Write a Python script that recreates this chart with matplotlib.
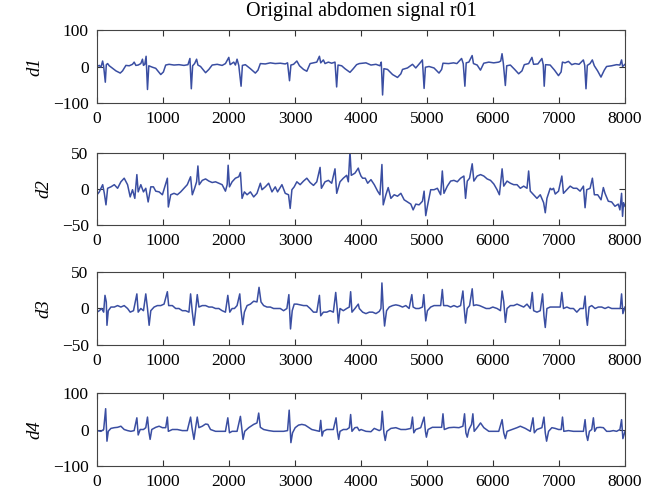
import matplotlib
matplotlib.use("Agg")
import matplotlib.pyplot as plt

# points, (sample, amplitude)
d1_points = [(0, 0), (35, 3), (60, -2), (85, 15), (100, 2), (126, -43), (141, 5), (161, 8), (186, 2), (236, -5),
             (287, -12), (352, -18), (387, -12), (438, 3), (488, 2), (538, 6), (563, 12), (589, 3), (624, 4),
             (664, 8), (689, 20), (704, 3), (724, 6), (744, 28), (765, -63), (785, 2), (840, -2), (890, -5),
             (966, -22), (1006, -15), (1041, 4), (1092, 6), (1167, 4), (1242, 5), (1318, 3), (1378, 5), (1408, 22),
             (1429, -61), (1449, 2), (1479, 8), (1509, 20), (1529, 4), (1569, 0), (1645, -17), (1695, -8),
             (1745, 4), (1821, 6), (1896, 3), (1946, 8), (1997, 25), (2017, 5), (2072, 12), (2097, 4), (2122, 20),
             (2148, 3), (2183, -54), (2203, 3), (2248, 5), (2324, -6), (2399, -18), (2439, -10), (2475, 8),
             (2550, 7), (2626, 10), (2701, 8), (2777, 9), (2852, 7), (2887, 10), (2917, -39), (2938, 4), (2978, 6),
             (3028, 15), (3068, 2), (3129, -8), (3179, -13), (3229, 8), (3280, 10), (3330, 12), (3370, 28),
             (3390, 10), (3430, 18), (3455, 8), (3505, 12), (3556, 9), (3606, 12), (3631, -56), (3652, 4),
             (3707, 2), (3757, -6), (3833, -16), (3883, -6), (3933, 5), (3974, 8), (4075, 10), (4151, 4),
             (4226, 6), (4287, 2), (4307, 12), (4327, -78), (4347, -6), (4402, -8), (4478, -22), (4553, -30),
             (4604, -20), (4629, -8), (4704, -4), (4780, 6), (4830, -4), (4905, 12), (4930, 18), (4956, -60),
             (4976, -2), (5031, 0), (5106, -4), (5182, -18), (5222, -8), (5242, 9), (5327, 8), (5403, 10),
             (5453, 8), (5524, 22), (5549, 8), (5574, -54), (5594, 10), (5634, 12), (5684, 30), (5704, 8),
             (5760, 4), (5810, -10), (5860, 9), (5936, 12), (6011, 10), (6087, 12), (6117, 15), (6137, 35),
             (6157, 8), (6187, -52), (6208, 2), (6263, 4), (6328, -8), (6389, -20), (6439, -12), (6474, 5),
             (6540, 8), (6590, 25), (6615, 6), (6680, 7), (6741, 22), (6761, 5), (6776, -54), (6796, 5),
             (6866, 4), (6932, -10), (6992, -25), (7032, -15), (7052, 12), (7092, 10), (7143, 14), (7193, 5),
             (7243, 8), (7304, 6), (7369, 18), (7389, 4), (7409, -61), (7429, 3), (7470, 8), (7505, 18),
             (7535, 2), (7585, -12), (7636, -29), (7686, -10), (7721, 0), (7797, 2), (7872, 5), (7923, 4),
             (7948, 18), (7963, 0), (8000, 6)]

d2_points = [(0, -8), (35, -4), (86, 6), (111, -6), (136, -22), (161, 1), (211, 3), (262, 6), (312, 1), (362, 10),
             (412, 15), (463, 6), (503, -11), (538, -1), (573, -13), (604, 20), (624, -4), (664, 6), (704, -4),
             (739, 1), (775, -18), (815, 3), (855, 3), (890, -3), (941, -4), (991, -8), (1066, 15), (1081, -25),
             (1117, -8), (1167, -6), (1217, -8), (1268, -4), (1318, 1), (1368, 6), (1418, 17), (1444, -8),
             (1479, 1), (1509, 10), (1529, 32), (1549, 6), (1595, 12), (1645, 14), (1695, 11), (1745, 9),
             (1796, 10), (1846, 8), (1896, 6), (1946, -3), (1972, 6), (1987, 33), (2007, 3), (2047, 10),
             (2097, 15), (2148, 17), (2173, 23), (2198, -13), (2233, -4), (2274, -8), (2324, -4), (2374, -11),
             (2424, -6), (2475, 8), (2500, -1), (2550, 3), (2601, 8), (2651, -4), (2701, 3), (2736, -4),
             (2802, 6), (2852, -6), (2902, -8), (2927, -27), (2953, -1), (2988, 3), (3028, 10), (3078, 6),
             (3129, 11), (3179, 15), (3229, 9), (3280, 5), (3330, 10), (3380, 30), (3400, 1), (3455, 10),
             (3506, 12), (3556, 8), (3606, 28), (3632, -6), (3682, 10), (3732, 15), (3783, 19), (3808, 10),
             (3833, 52), (3853, 19), (3908, 22), (3959, 29), (3974, 24), (4000, 18), (4025, 15), (4065, 15),
             (4101, 8), (4151, 13), (4201, 6), (4252, -3), (4287, -8), (4317, 34), (4337, -22), (4377, -8),
             (4412, 2), (4453, -13), (4503, -8), (4553, -10), (4604, -6), (4654, -15), (4704, -18), (4755, -21),
             (4790, -29), (4830, -21), (4880, -22), (4931, -17), (4956, -3), (4981, -37), (5006, -24),
             (5056, -1), (5107, -1), (5157, 1), (5207, -8), (5232, 25), (5257, -6), (5308, 4), (5358, 11),
             (5408, 12), (5459, 10), (5509, 15), (5559, 18), (5584, -13), (5610, 11), (5645, 15), (5685, 35),
             (5710, 11), (5760, 18), (5811, 20), (5861, 18), (5911, 14), (5962, 12), (6012, 7), (6062, -1),
             (6097, -8), (6138, 28), (6163, 4), (6213, 11), (6263, 8), (6314, 6), (6364, 6), (6414, 1),
             (6465, 4), (6515, 1), (6540, 25), (6565, -3), (6616, -8), (6666, -13), (6716, -8), (6767, -19),
             (6792, -33), (6817, -13), (6867, 1), (6892, -1), (6917, 1), (6943, -7), (6993, -3), (7043, 18),
             (7068, -6), (7119, -1), (7169, 4), (7219, 1), (7270, 1), (7320, -3), (7370, 4), (7395, -26),
             (7420, -1), (7471, 1), (7506, 15), (7536, -8), (7586, -8), (7637, -15), (7672, 2), (7697, -6),
             (7747, -17), (7798, -18), (7848, -24), (7898, -21), (7923, -29), (7948, -6), (7963, -38),
             (7978, -19), (8000, -24)]

d3_points = [(0, -5), (35, -3), (70, 0), (101, -5), (121, 18), (141, 9), (151, -23), (171, -3), (211, 2), (262, 2),
             (312, 4), (362, 2), (412, 4), (463, 0), (503, -5), (553, -3), (604, 20), (624, -5), (664, 0),
             (704, -3), (739, 20), (765, 0), (790, -23), (815, -3), (865, 2), (915, 4), (966, 4), (1016, 6),
             (1066, 23), (1086, 4), (1142, 4), (1192, 0), (1242, 0), (1293, -3), (1343, -3), (1393, -5),
             (1418, 20), (1444, -5), (1469, -23), (1494, -3), (1519, 19), (1544, 2), (1595, 4), (1645, 4),
             (1695, 2), (1745, 2), (1796, 0), (1846, 0), (1896, -3), (1946, -5), (1982, 18), (2012, -5),
             (2047, 0), (2082, 0), (2122, 4), (2163, 20), (2183, -3), (2208, -22), (2233, -5), (2274, 4),
             (2324, 6), (2374, 10), (2424, 9), (2455, 29), (2485, 9), (2525, 4), (2575, 2), (2626, 2), (2676, 0),
             (2726, 0), (2777, 0), (2827, -3), (2877, 0), (2907, 19), (2932, -28), (2958, -3), (2988, 6),
             (3028, 6), (3078, 5), (3129, 4), (3179, 4), (3229, 0), (3280, -5), (3330, -5), (3370, 18),
             (3390, -10), (3430, -5), (3481, -5), (3531, -3), (3581, -5), (3617, 22), (3642, -3), (3657, -20),
             (3682, 0), (3732, -3), (3783, 0), (3823, 2), (3843, 23), (3863, -5), (3908, 0), (3959, 6),
             (3974, 0), (4025, -5), (4075, -7), (4126, -5), (4176, -5), (4226, -7), (4277, -4), (4302, 0),
             (4317, 35), (4337, 0), (4357, -24), (4387, -3), (4428, 2), (4478, 4), (4528, 5), (4578, 4),
             (4629, 2), (4679, 4), (4729, 0), (4770, 19), (4790, 2), (4830, 0), (4880, 0), (4931, 2),
             (4951, 19), (4981, -17), (5006, -3), (5056, 2), (5107, 4), (5157, 4), (5207, 4), (5232, 26),
             (5252, 4), (5308, 4), (5358, 2), (5408, 4), (5459, 2), (5509, 4), (5544, 24), (5564, 0),
             (5584, -20), (5610, 0), (5645, 4), (5685, 27), (5705, 4), (5745, 5), (5796, 4), (5846, 2),
             (5896, 0), (5947, 0), (5997, 2), (6062, 0), (6113, -3), (6138, 24), (6163, 9), (6188, -19),
             (6213, 0), (6263, 4), (6314, 4), (6364, 6), (6414, 4), (6465, 2), (6515, 6), (6565, 0), (6595, 22),
             (6616, -3), (6666, -5), (6716, -3), (6751, 20), (6772, -10), (6792, -26), (6817, 0), (6867, 2),
             (6917, 2), (6968, 2), (7018, 2), (7043, 22), (7068, 0), (7119, 2), (7169, 0), (7219, 0), (7270, -5),
             (7320, 0), (7370, 0), (7395, 17), (7415, -12), (7430, -23), (7456, 2), (7496, 4), (7546, 0),
             (7596, 2), (7647, 2), (7697, 0), (7747, 2), (7798, 0), (7848, 0), (7898, 0), (7928, 0), (7948, 20),
             (7968, -7), (8000, 2)]

d4_points = [(0, -3), (60, -5), (101, 0), (131, 57), (151, -32), (171, -5), (211, 3), (262, 5), (312, 6), (362, 9),
             (412, 0), (463, -3), (513, -5), (563, -3), (604, 32), (624, -15), (654, 0), (704, 0), (739, 5),
             (765, 34), (785, -5), (805, -27), (830, 0), (890, 6), (941, 9), (991, 5), (1041, 5), (1066, 34),
             (1081, -5), (1142, 0), (1217, 0), (1293, -3), (1368, -3), (1418, 34), (1439, 5), (1469, -27),
             (1494, 5), (1519, 34), (1544, 5), (1595, 9), (1645, 15), (1680, 14), (1720, 0), (1796, -5),
             (1871, -5), (1946, -5), (1982, 32), (2007, -9), (2047, -5), (2122, -5), (2173, 36), (2198, -5),
             (2213, -27), (2238, -5), (2299, 5), (2374, 14), (2424, 18), (2450, 45), (2475, 6), (2525, 0),
             (2601, -3), (2676, -5), (2751, -5), (2827, -5), (2887, -3), (2912, 53), (2938, -36), (2963, -9),
             (3003, 5), (3053, 12), (3103, 14), (3154, 12), (3204, 6), (3254, 0), (3320, -3), (3370, -5),
             (3390, 25), (3410, -18), (3430, -5), (3481, 0), (3531, 0), (3581, 0), (3622, 32), (3642, -5),
             (3662, -27), (3682, -5), (3732, 0), (3783, 0), (3823, 5), (3843, 41), (3863, -5), (3908, 5),
             (3944, 6), (3974, -3), (4000, 0), (4075, -5), (4151, -6), (4201, 3), (4277, -3), (4302, 0),
             (4322, 50), (4347, -9), (4367, -30), (4392, -5), (4453, 3), (4528, 5), (4604, 0), (4679, 0),
             (4755, 3), (4780, 34), (4800, -9), (4830, 0), (4905, 5), (4956, 34), (4976, -5), (4991, -21),
             (5016, 0), (5081, 6), (5157, 6), (5222, 6), (5242, 43), (5262, 0), (5333, 5), (5408, 6), (5484, 5),
             (5544, 9), (5569, 43), (5589, -9), (5610, -21), (5635, 0), (5675, 14), (5695, 43), (5715, -5),
             (5760, 5), (5811, 18), (5861, 5), (5937, -5), (6012, -5), (6087, -5), (6138, 27), (6163, -9),
             (6188, -25), (6213, -5), (6289, 0), (6364, 5), (6414, 9), (6490, 3), (6565, -5), (6606, 32),
             (6626, -9), (6666, 0), (6741, 5), (6772, 34), (6792, -9), (6812, -32), (6842, -5), (6892, 5),
             (6943, 3), (6993, 0), (7033, 0), (7053, 34), (7073, -5), (7144, -3), (7219, -5), (7295, -5),
             (7370, -5), (7395, 27), (7415, -14), (7435, -30), (7461, -5), (7496, 0), (7521, 32), (7541, -5),
             (7571, 5), (7622, 6), (7672, 5), (7722, -5), (7772, -5), (7823, -3), (7873, -5), (7923, 0),
             (7948, 27), (7968, -25), (8000, -5)]

names = ["d1", "d2", "d3", "d4"]
signals = [d1_points, d2_points, d3_points, d4_points]
y_limits = [100, 50, 50, 100]
x_ticks = [0, 1000, 2000, 3000, 4000, 5000, 6000, 7000, 8000]

plt.rcParams['font.family'] = ['Liberation Serif', 'DejaVu Serif']
plt.rcParams['font.size'] = 12.5

fig = plt.figure(figsize=(6.70, 4.98), dpi=100)

# axes boxes (pixels, top/bottom)
boxes = [(30, 103), (153, 225), (272, 345), (393, 466)]
line_color = '#3a4ea2'

for i in range(4):
    top, bottom = boxes[i]
    ax = fig.add_axes([97 / 670, 1 - bottom / 498, 528 / 670, (bottom - top) / 498])
    xs = [p[0] for p in signals[i]]
    ys = [p[1] for p in signals[i]]
    ax.plot(xs, ys, color=line_color, linewidth=1.1)
    lim = y_limits[i]
    ax.set_xlim(0, 8000)
    ax.set_ylim(-lim, lim)
    ax.set_yticks([-lim, 0, lim])
    ax.set_xticks(x_ticks)
    ax.tick_params(direction='in', top=True, right=True, length=4, width=0.8,
                   colors='#333333', labelcolor='black', labelsize=12.5, pad=6)
    for s in ax.spines.values():
        s.set_color('#444444')
        s.set_linewidth(0.8)
    ax.set_ylabel(names[i], fontstyle='italic', fontsize=13.5, labelpad=7)
    if i == 0:
        ax.set_title('Original abdomen signal r01', fontsize=14.5, pad=10)

fig.savefig('out.png', dpi=100)
